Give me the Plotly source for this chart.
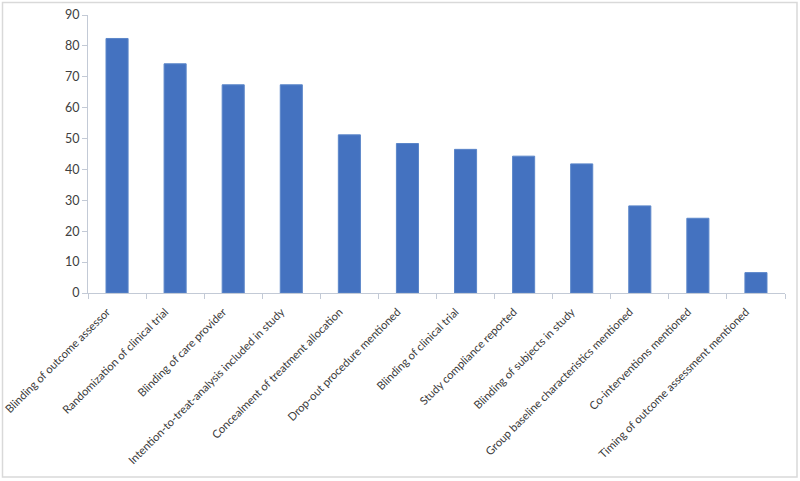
import plotly.graph_objects as go

categories = [
    "Blinding of outcome assessor",
    "Randomization of clinical trial",
    "Blinding of care provider",
    "Intention-to-treat-analysis included in study",
    "Concealment of treatment allocation",
    "Drop-out procedure mentioned",
    "Blinding of clinical trial",
    "Study compliance reported",
    "Blinding of subjects in study",
    "Group baseline characteristics mentioned",
    "Co-interventions mentioned",
    "Timing of outcome assessment mentioned",
]
values = [82.4, 74.2, 67.4, 67.4, 51.2, 48.4, 46.5, 44.3, 41.8, 28.2, 24.2, 6.6]
y_ticks = [0, 10, 20, 30, 40, 50, 60, 70, 80, 90]

W, H = 800, 481
L, R, T, B = 88, 15, 15, 188
pw, ph = W - L - R, H - T - B

def px_x(p):
    return (p - L) / pw

def px_y(p):
    return (H - B - p) / ph

fig = go.Figure(go.Bar(
    x=categories, y=values,
    marker=dict(color="#4472C0", line=dict(color="#5B86C9", width=1)),
    width=0.38,
))

fig.update_layout(
    width=W, height=H,
    margin=dict(l=L, r=R, t=T, b=B),
    paper_bgcolor="white", plot_bgcolor="white",
    showlegend=False,
    font=dict(family="Lato, Carlito, sans-serif", size=12, color="#404040"),
    bargap=0.62,
    shapes=[dict(type="rect", xref="paper", yref="paper",
                 x0=px_x(2.5), x1=px_x(797), y0=px_y(477), y1=px_y(2.5),
                 line=dict(color="#d9d9d9", width=1.5), layer="below")],
)
fig.update_xaxes(
    automargin=False,
    tickangle=-45, tickfont=dict(size=11.2, color="#3a3a3a"),
    showline=True, linecolor="#c3cad6", linewidth=1,
    ticks="outside", tickson="boundaries", ticklen=5, tickcolor="#c3cad6",
    ticklabelshift=-10, ticklabelstandoff=7,
    showgrid=False,
)
fig.update_yaxes(
    automargin=False,
    range=[0, 90], tickvals=y_ticks, tickfont=dict(size=12.5, color="#404040"),
    showline=True, linecolor="#c3cad6", linewidth=1,
    ticks="outside", ticklen=5, tickcolor="#c3cad6",
    showgrid=False, zeroline=False,
)

fig.write_html(
    "out.html",
    config={"displayModeBar": False},
    post_script="document.body.style.margin='0';document.body.style.overflow='hidden';",
)
